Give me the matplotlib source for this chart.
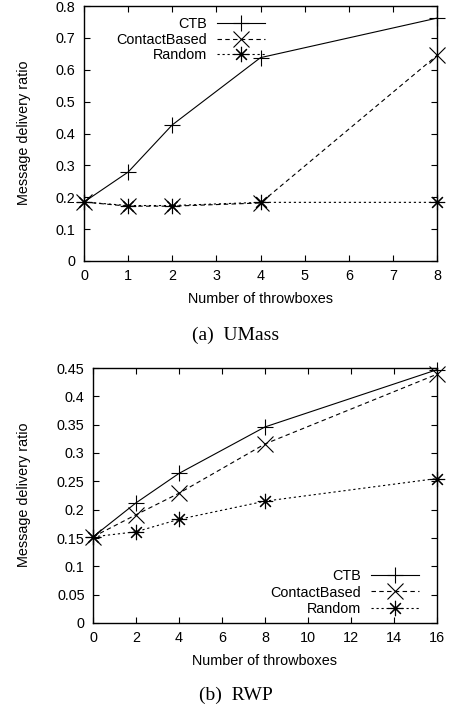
import matplotlib
matplotlib.use('Agg')
import matplotlib.pyplot as plt

plt.rcParams['font.family'] = ['Liberation Sans', 'DejaVu Sans']
plt.rcParams['font.size'] = 10.4

# UMass
x_umass = [0, 1, 2, 4, 8]
ctb_umass = [0.185, 0.279, 0.427, 0.638, 0.762]
contact_umass = [0.185, 0.172, 0.172, 0.182, 0.645]
random_umass = [0.185, 0.174, 0.174, 0.184, 0.184]

# RWP
x_rwp = [0, 2, 4, 8, 16]
ctb_rwp = [0.152, 0.212, 0.264, 0.346, 0.447]
contact_rwp = [0.152, 0.191, 0.229, 0.316, 0.439]
random_rwp = [0.152, 0.161, 0.183, 0.215, 0.255]

labels = ['CTB', 'ContactBased', 'Random']
estilos = [('-', '+'), ((0, (4, 3)), 'x'), ((0, (2, 2.5)), (8, 2, 0))]

W, H = 451, 708
fig = plt.figure(figsize=(W / 100, H / 100), dpi=100)


def eixo(esq, topo, dir, base):
    # caixa em pixels -> fração da figura
    return fig.add_axes([esq / W, 1 - base / H, (dir - esq) / W, (base - topo) / H])


def desenhar(ax, x, series, xmax, ymax, ystep, xticks, legend_loc, bbox, esp):
    for ys, lab, (ls, mk) in zip(series, labels, estilos):
        ax.plot(x, ys, color='black', linestyle=ls, linewidth=0.8,
                marker=mk, markersize=11, markeredgewidth=0.8, label=lab,
                clip_on=False)
    ax.set_xlim(0, xmax)
    ax.set_ylim(0, ymax)
    ax.set_xticks(xticks)
    n = int(round(ymax / ystep))
    yt = [i * ystep for i in range(n + 1)]
    ax.set_yticks(yt)
    ax.set_yticklabels(['%g' % round(v, 2) for v in yt])
    ax.tick_params(direction='in', top=True, right=True, length=4.3, width=0.8,
                   pad=6, colors='black')
    for s in ax.spines.values():
        s.set_linewidth(1.0)
    ax.set_xlabel('Number of throwboxes', labelpad=6)
    ax.legend(loc=legend_loc, bbox_to_anchor=bbox, markerfirst=False,
              frameon=False, handlelength=3.3, handletextpad=0.7,
              labelspacing=esp, borderaxespad=0, borderpad=0)


ax1 = eixo(84, 6, 437, 261)
desenhar(ax1, x_umass, [ctb_umass, contact_umass, random_umass],
         8, 0.8, 0.1, range(0, 9), 'upper right', (0.513, 0.955), 0.08)
fig.text(24 / W, 1 - 133 / H, 'Message delivery ratio', rotation=90,
         ha='center', va='center')
fig.text(236 / W, 1 - 335 / H, '(a)  UMass', ha='center', va='center',
         fontsize=14, family='Liberation Serif')

ax2 = eixo(93, 368, 437, 623)
desenhar(ax2, x_rwp, [ctb_rwp, contact_rwp, random_rwp],
         16, 0.45, 0.05, range(0, 17, 2), 'lower right', (0.948, 0.027), 0.18)
fig.text(24 / W, 1 - 495 / H, 'Message delivery ratio', rotation=90,
         ha='center', va='center')
fig.text(236 / W, 1 - 695 / H, '(b)  RWP', ha='center', va='center',
         fontsize=14, family='Liberation Serif')

plt.savefig('out.png', dpi=100)
